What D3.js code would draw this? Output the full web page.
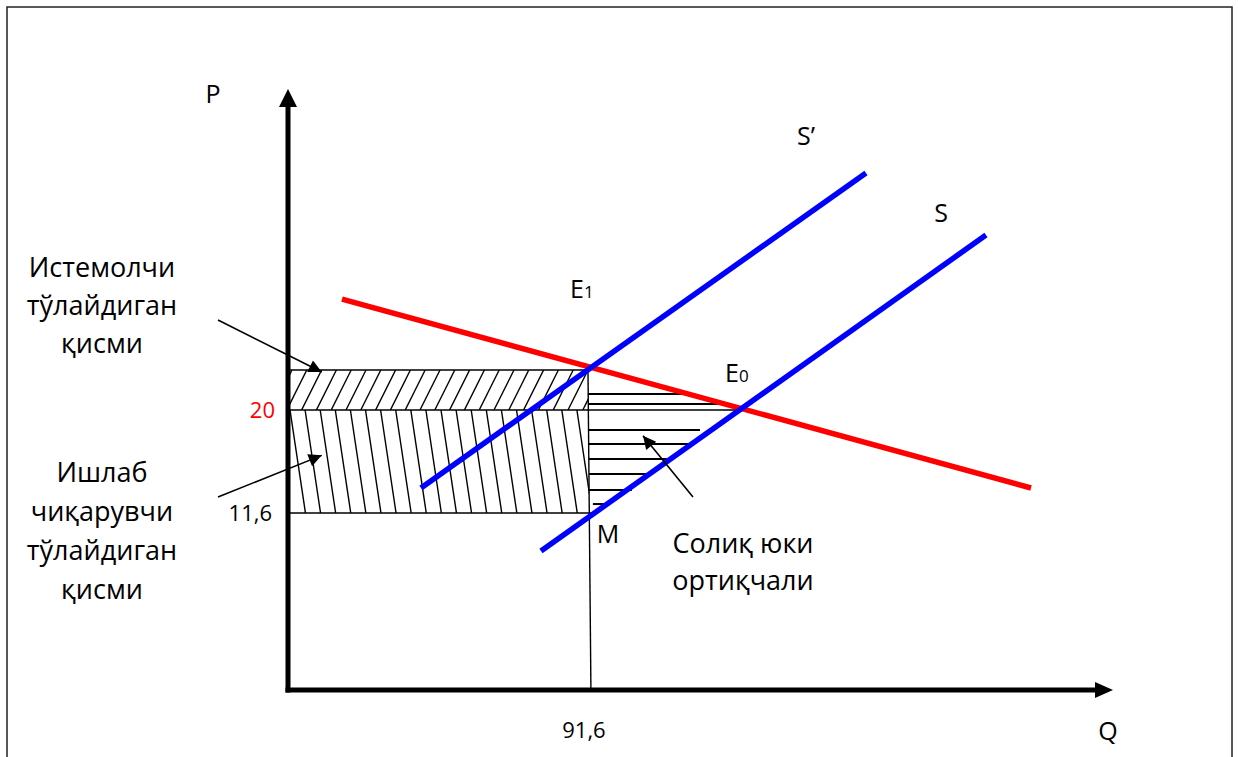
<!DOCTYPE html>
<html><head><meta charset="utf-8">
<script src="https://cdn.jsdelivr.net/npm/d3@7"></script>
<style>
html,body{margin:0;padding:0;background:#fff;}
svg{display:block;}
text{font-family:"Open Sans","Noto Sans",sans-serif;fill:#000;}
</style></head>
<body>
<svg id="chart" width="1238" height="757"></svg>
<script>
// ---- data (Q, P units) ----
const demandLine = [{q:16.49,p:29.05},{q:226.88,p:13.64}];
const supplyTaxLine = [{q:40.61,p:13.64},{q:176.49,p:39.33}];   // S'
const supplyLine = [{q:77.25,p:8.50},{q:213.13,p:34.27}];       // S
const qTax = 91.6;          // quantity after tax
const pConsumer = 23.26;    // E1 price
const pEquil = 20;          // E0 price
const pProducer = 11.6;     // M price
const qEquil = 138.02;      // E0 quantity
const dropLine = [{q:91.6,p:23.26},{q:92.5,p:null}];
// dead-weight loss hatching: [P, Qstart, Qend]
const dwlHatch = [
  [21.30,91.6,122.1],[20.49,91.6,132.5],
  [18.37,91.9,125.8],[17.23,91.9,124.0],[16.00,91.9,115.7],
  [14.78,91.9,111.5],[13.48,91.9,105.0],[12.33,93.1,97.4]
];
const tickLabelsY = [{p:20,label:"20",color:"#ff0000"},{p:11.6,label:"11,6",color:"#000"}];
const tickLabelsX = [{q:91.6,label:"91,6"}];

const svg = d3.select("#chart");
const x = d3.scaleLinear().domain([0,251]).range([288,1110]);
const y = d3.scaleLinear().domain([11.6,20]).range([513,410]);
const originY = 690, axisTopY = 89, axisRightX = 1113;

// frame
svg.append("rect").attr("x",7).attr("y",7).attr("width",1225).attr("height",760)
  .attr("fill","none").attr("stroke","#222").attr("stroke-width",1.5);

const defs = svg.append("defs");
defs.append("marker").attr("id","ah").attr("viewBox","0 0 10 10").attr("refX",10).attr("refY",5)
  .attr("markerWidth",15).attr("markerHeight",13).attr("markerUnits","userSpaceOnUse").attr("orient","auto")
  .append("path").attr("d","M0,0 L10,5 L0,10 z").attr("fill","#000");

const x0 = x(0), xT = x(qTax);
defs.append("clipPath").attr("id","cUp").append("rect")
  .attr("x",x0).attr("y",y(pConsumer)).attr("width",xT-x0).attr("height",y(pEquil)-y(pConsumer));
defs.append("clipPath").attr("id","cLo").append("rect")
  .attr("x",x0).attr("y",y(pEquil)).attr("width",xT-x0+1).attr("height",y(pProducer)-y(pEquil));

// upper "/" hatch
const gUp = svg.append("g").attr("clip-path","url(#cUp)");
d3.range(x0+4, xT+20, 14.8).forEach(t=>{
  gUp.append("line").attr("x1",t-20).attr("y1",y(pEquil)).attr("x2",t).attr("y2",y(pConsumer))
    .attr("stroke","#000").attr("stroke-width",1.4);
});
// lower "\" hatch
const gLo = svg.append("g").attr("clip-path","url(#cLo)");
const hLo = y(pProducer)-y(pEquil);
d3.range(x0+2, xT-8, 15.1).forEach(t=>{
  gLo.append("line").attr("x1",t).attr("y1",y(pEquil)).attr("x2",t+hLo*0.15).attr("y2",y(pProducer))
    .attr("stroke","#000").attr("stroke-width",1.4);
});

function ln(a,b,c,d,w){svg.append("line").attr("x1",a).attr("y1",b).attr("x2",c).attr("y2",d)
  .attr("stroke","#000").attr("stroke-width",w||1.6);}
ln(x0,y(pConsumer),xT,y(pConsumer));
ln(x0,y(pEquil),x(qEquil),y(pEquil));
ln(x0,y(pProducer),x(93),y(pProducer));
ln(x(dropLine[0].q),y(dropLine[0].p),x(dropLine[1].q),originY,1.4);

// DWL hatch
dwlHatch.forEach(d=>ln(x(d[1]),y(d[0]),x(d[2]),y(d[0]),2));

// curves
const line = d3.line().x(d=>x(d.q)).y(d=>y(d.p));
svg.append("path").datum(demandLine).attr("d",line).attr("stroke","#ff0000").attr("stroke-width",5.5).attr("fill","none");
svg.append("path").datum(supplyTaxLine).attr("d",line).attr("stroke","#0000ff").attr("stroke-width",5.5).attr("fill","none");
svg.append("path").datum(supplyLine).attr("d",line).attr("stroke","#0000ff").attr("stroke-width",5.5).attr("fill","none");

// axes
svg.append("line").attr("x1",x0).attr("y1",originY+2.5).attr("x2",x0).attr("y2",axisTopY+16)
  .attr("stroke","#000").attr("stroke-width",5);
svg.append("path").attr("d",`M${x0-9},${axisTopY+18} L${x0},${axisTopY} L${x0+9},${axisTopY+18} z`).attr("fill","#000");
svg.append("line").attr("x1",x0-2.5).attr("y1",originY).attr("x2",axisRightX-16).attr("y2",originY)
  .attr("stroke","#000").attr("stroke-width",5);
svg.append("path").attr("d",`M${axisRightX-18},${originY-8} L${axisRightX},${originY} L${axisRightX-18},${originY+8} z`).attr("fill","#000");

// tick labels
tickLabelsY.forEach((d,i)=>svg.append("text").attr("x",x0-(i?16:13)).attr("y",y(d.p)+8).attr("text-anchor","end")
  .attr("font-size",22).style("fill",d.color).text(d.label));
tickLabelsX.forEach(d=>svg.append("text").attr("x",x(d.q)-4).attr("y",738).attr("text-anchor","middle")
  .attr("font-size",22).text(d.label));

function tx(t,px,py,fs,anchor){return svg.append("text").attr("x",px).attr("y",py).attr("font-size",fs)
  .attr("text-anchor",anchor||"middle").text(t);}
tx("P",213,103,25);
tx("Q",1108,740,25);
tx("S’",806,145,25);
tx("S",941,222,25);
const e1 = tx("E",570,298,25,"start"); e1.append("tspan").attr("font-size",17).text("1");
const e0 = tx("E",725,382,25,"start"); e0.append("tspan").attr("font-size",17).text("0");
tx("M",608,543,25);

const lf = 27;
["Истемолчи","тўлайдиган","қисми"].forEach((t,i)=>tx(t,102,277+i*38,lf));
["Ишлаб","чиқарувчи","тўлайдиган","қисми"].forEach((t,i)=>tx(t,102,482+i*39,lf));
["Солиқ юки","ортиқчали"].forEach((t,i)=>tx(t,743,553+i*37,lf));

function arrow(x1,y1,x2,y2){svg.append("line").attr("x1",x1).attr("y1",y1).attr("x2",x2).attr("y2",y2)
  .attr("stroke","#000").attr("stroke-width",1.6).attr("marker-end","url(#ah)");}
arrow(218,320,x(10.3),y(pConsumer)+2);
arrow(218,497,x(10.3),y(16.3));
arrow(693,497,x(108.4),y(17.9));
</script>
</body></html>
